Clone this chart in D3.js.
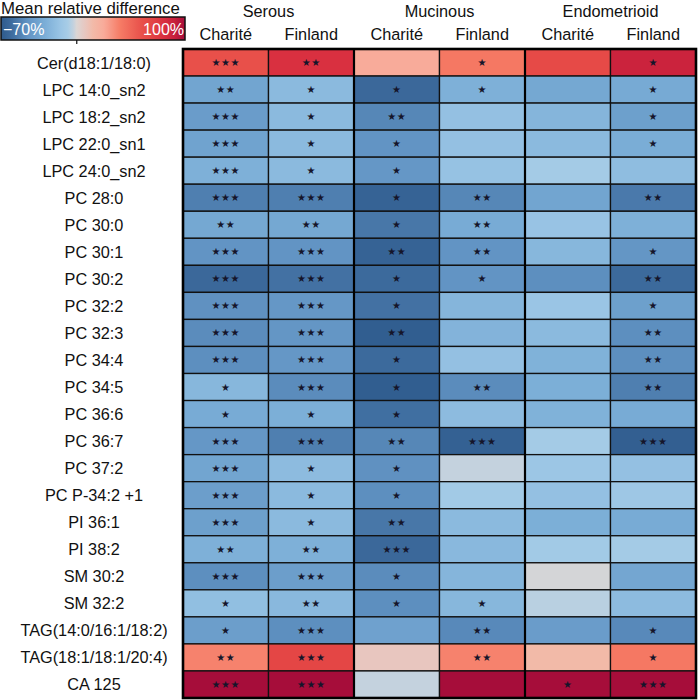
<!DOCTYPE html>
<html>
<head>
<meta charset="utf-8">
<script src="https://cdn.jsdelivr.net/npm/d3@7"></script>
<style>
html,body{margin:0;padding:0;background:#fff;}
svg{display:block;font-family:"Liberation Sans",Arial,Helvetica,sans-serif;}
</style>
</head>
<body>
<svg id="chart" width="698" height="700"></svg>
<script>
const rows = ["Cer(d18:1/18:0)","LPC 14:0_sn2","LPC 18:2_sn2","LPC 22:0_sn1","LPC 24:0_sn2","PC 28:0","PC 30:0","PC 30:1","PC 30:2","PC 32:2","PC 32:3","PC 34:4","PC 34:5","PC 36:6","PC 36:7","PC 37:2","PC P-34:2 +1","PI 36:1","PI 38:2","SM 30:2","SM 32:2","TAG(14:0/16:1/18:2)","TAG(18:1/18:1/20:4)","CA 125"];
const groups = ["Serous","Mucinous","Endometrioid"];
const cohorts = ["Charité","Finland"];
const columns = ["Serous|Charité","Serous|Finland","Mucinous|Charité","Mucinous|Finland","Endometrioid|Charité","Endometrioid|Finland"];

// mean relative difference (%) per row, columns in the order above
const values = [
  [60, 80, 25, 42, 65, 88],
  [-35, -22, -62, -28, -33, -32],
  [-40, -22, -50, -18, -25, -38],
  [-36, -22, -45, -18, -22, -30],
  [-28, -22, -43, -17, -10, -20],
  [-53, -53, -65, -50, -35, -55],
  [-33, -33, -56, -31, -16, -28],
  [-45, -45, -65, -45, -24, -44],
  [-62, -58, -61, -45, -47, -61],
  [-46, -43, -58, -25, -15, -38],
  [-48, -44, -68, -26, -22, -47],
  [-47, -43, -61, -18, -27, -47],
  [-24, -48, -68, -48, -29, -53],
  [-31, -29, -59, -21, -27, -31],
  [-43, -53, -50, -66, -10, -67],
  [-35, -21, -46, -3, -14, -18],
  [-39, -22, -47, -11, -18, -13],
  [-38, -22, -56, -22, -29, -31],
  [-28, -28, -62, -23, -11, -10],
  [-47, -39, -48, -25, -1, -34],
  [-19, -23, -47, -24, -5, -21],
  [-39, -47, -37, -49, -40, -49],
  [38, 68, 8, 38, 15, 42],
  [100, 100, -3, 100, 100, 100]
];

// significance stars
const stars = [
  ["***","**","","*","","*"],
  ["**","*","*","*","","*"],
  ["***","*","**","","","*"],
  ["***","*","*","","","*"],
  ["***","*","*","","",""],
  ["***","***","*","**","","**"],
  ["**","**","*","**","",""],
  ["***","***","**","**","","*"],
  ["***","***","*","*","","**"],
  ["***","***","*","","","*"],
  ["***","***","**","","","**"],
  ["***","***","*","","","**"],
  ["*","***","*","**","","**"],
  ["*","*","*","","",""],
  ["***","***","**","***","","***"],
  ["***","*","*","","",""],
  ["***","*","*","","",""],
  ["***","*","**","","",""],
  ["**","**","***","","",""],
  ["***","***","*","","",""],
  ["*","**","*","*","",""],
  ["*","***","","**","","*"],
  ["**","***","","**","","*"],
  ["***","***","","","*","***"]
];

const legendTicks = ["−70%","100%"];
const colorDomain = [-70,-60,-45,-30,-15,-8,-3,0,8,15,25,40,60,70,80,90,100];
const colorRange = ["#2e5a8c","#3e6c9e","#6294c4","#7aadd6","#9ac5e5","#a8cde6","#c4d2de","#dcd6d4","#e8c6bf","#f2baa8","#f8ab9a","#f67c66","#e8504a","#e34444","#d93040","#c8203c","#a60d3a"];

const color = d3.scaleLinear().domain(colorDomain).range(colorRange).interpolate(d3.interpolateRgb).clamp(true);

const svg = d3.select("#chart");
const x = d3.scaleBand().domain(columns).range([183, 696]).padding(0);
const y = d3.scaleBand().domain(rows).range([49, 698]).padding(0);

// cells
const cells = [];
rows.forEach((r,i)=>columns.forEach((c,j)=>cells.push({r,c,v:values[i][j],s:stars[i][j]})));

svg.append("g").selectAll("rect").data(cells).join("rect")
  .attr("x", d=>x(d.c)).attr("y", d=>y(d.r))
  .attr("width", x.bandwidth()).attr("height", y.bandwidth())
  .attr("fill", d=>color(d.v))
  .attr("stroke", "#111").attr("stroke-width", 1.3);

svg.append("g").selectAll("text").data(cells.filter(d=>d.s)).join("text")
  .attr("x", d=>x(d.c)+x.bandwidth()/2).attr("y", d=>y(d.r)+y.bandwidth()/2+3.5)
  .attr("text-anchor","middle")
  .attr("font-family","DejaVu Sans")
  .attr("font-size", 10)
  .attr("letter-spacing", 0.6)
  .attr("fill","#15152a")
  .text(d=>d.s.replace(/\*/g,"★"));

// group separators and outer border
const sepX = [x(columns[2]), x(columns[4])];
svg.append("g").selectAll("line").data(sepX).join("line")
  .attr("x1",d=>d).attr("x2",d=>d).attr("y1",y.range()[0]).attr("y2",y.range()[1])
  .attr("stroke","#000").attr("stroke-width",2.2);
svg.append("rect")
  .attr("x", x.range()[0]).attr("y", y.range()[0])
  .attr("width", x.range()[1]-x.range()[0]).attr("height", y.range()[1]-y.range()[0])
  .attr("fill","none").attr("stroke","#000").attr("stroke-width",2.6);

// row labels
svg.append("g").selectAll("text").data(rows).join("text")
  .attr("x", 94).attr("y", d=>y(d)+y.bandwidth()/2+6)
  .attr("text-anchor","middle").attr("font-size",16.3).attr("fill","#111")
  .text(d=>d);

// column headers
svg.append("g").selectAll("text").data(groups).join("text")
  .attr("x",(d,i)=>x(columns[i*2])+x.bandwidth())
  .attr("y",17).attr("text-anchor","middle").attr("font-size",16.3).attr("fill","#111")
  .text(d=>d);
svg.append("g").selectAll("text").data(columns).join("text")
  .attr("x",d=>x(d)+x.bandwidth()/2)
  .attr("y",40).attr("text-anchor","middle").attr("font-size",16.3).attr("fill","#111")
  .text(d=>d.split("|")[1]);

// legend
const lx = d3.scaleLinear().domain([-70,100]).range([1,185]);
const defs = svg.append("defs");
const grad = defs.append("linearGradient").attr("id","lg").attr("x1","0%").attr("x2","100%");
d3.range(0,1.0001,0.01).forEach(t=>{
  const v = -70 + 170*t;
  grad.append("stop").attr("offset",(t*100)+"%").attr("stop-color",color(v));
});
svg.append("text").attr("x",1).attr("y",14).attr("font-size",16.8).attr("fill","#111").text("Mean relative difference");
svg.append("rect").attr("x",lx.range()[0]).attr("y",17).attr("width",lx.range()[1]-lx.range()[0]).attr("height",23)
  .attr("fill","url(#lg)").attr("stroke","#111").attr("stroke-width",1.5);
svg.append("line").attr("x1",lx(0)).attr("x2",lx(0)).attr("y1",40).attr("y2",44).attr("stroke","#111").attr("stroke-width",1.2);
svg.append("text").attr("x",3).attr("y",35).attr("font-size",16).attr("fill","#fff").text(legendTicks[0]);
svg.append("text").attr("x",184).attr("y",35).attr("text-anchor","end").attr("font-size",16).attr("fill","#fff").text(legendTicks[1]);
</script>
</body>
</html>
